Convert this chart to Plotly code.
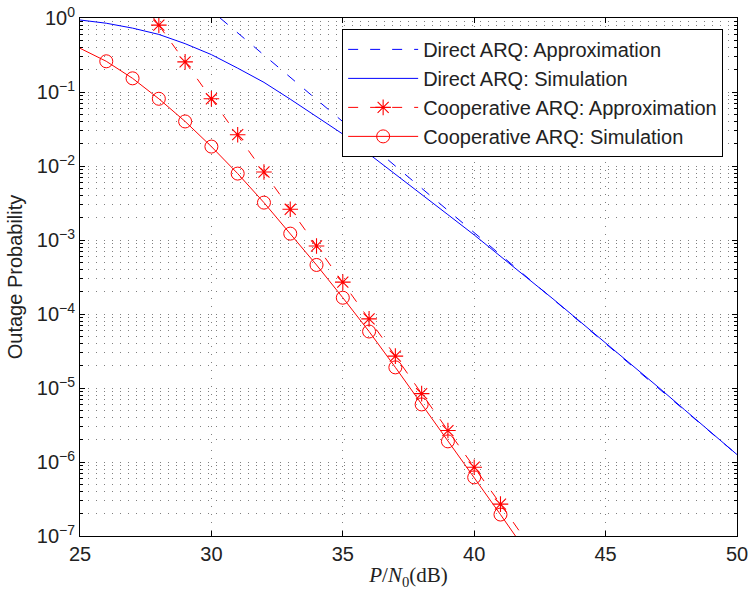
import plotly.graph_objects as go

# ---------------- data ----------------
snr_direct_sim = [25, 26, 27, 28, 29, 30, 31, 32, 33, 34, 35, 36, 37, 38, 39, 40,
                  41, 42, 43, 44, 45, 46, 47, 48, 49, 50]
pout_direct_sim = [0.94, 0.85, 0.73, 0.60, 0.45, 0.32, 0.21, 0.135, 0.080, 0.046,
                   0.027, 0.0145, 0.0078, 0.0041, 0.0022, 0.00117, 6.1e-4, 3.1e-4,
                   1.6e-4, 8.1e-5, 4.1e-5, 2.05e-5, 1.03e-5, 5.1e-6, 2.55e-6, 1.26e-6]

snr_direct_approx = [30.33, 31, 32, 33, 34, 35, 36, 37, 38, 39, 40, 41, 42, 43, 44,
                     45, 46, 47, 48, 49, 50]
pout_direct_approx = [1.0, 0.63, 0.315, 0.158, 0.079, 0.040, 0.020, 0.010, 0.0050,
                      0.0025, 0.00126, 6.3e-4, 3.2e-4, 1.6e-4, 7.9e-5, 4.0e-5, 2.0e-5,
                      1.0e-5, 5.0e-6, 2.5e-6, 1.26e-6]

snr_coop_approx = [28, 29, 30, 31, 32, 33, 34, 35, 36, 37, 38, 39, 40, 41]
pout_coop_approx = [0.80, 0.255, 0.081, 0.0265, 0.0083, 0.0026, 8.3e-4, 2.7e-4,
                    8.6e-5, 2.7e-5, 8.4e-6, 2.66e-6, 8.5e-7, 2.7e-7]
# where the approximation line leaves the plot (top and bottom edges)
snr_coop_approx_head = [27.8, 28]
pout_coop_approx_head = [1.0, 0.80]
snr_coop_approx_tail = [41, 41.85]
pout_coop_approx_tail = [2.7e-7, 1.0e-7]

snr_coop_sim = [26, 27, 28, 29, 30, 31, 32, 33, 34, 35, 36, 37, 38, 39, 40, 41]
pout_coop_sim = [0.26, 0.153, 0.081, 0.040, 0.0183, 0.0079, 0.0032, 0.00122, 4.6e-4,
                 1.66e-4, 5.8e-5, 1.9e-5, 6.0e-6, 1.9e-6, 6.2e-7, 1.95e-7]
snr_coop_sim_head = [25, 26]
pout_coop_sim_head = [0.39, 0.26]
snr_coop_sim_tail = [41, 41.57]
pout_coop_sim_tail = [1.95e-7, 1.0e-7]

x_ticks = [25, 30, 35, 40, 45, 50]
y_exponents = [-7, -6, -5, -4, -3, -2, -1, 0]

# ---------------- styling ----------------
BLUE = "#0000ff"
RED = "#ff0000"
DASH = "10px,12px"
GRID = "rgba(0,0,0,0.5)"
GRIDDASH = "1px,7px"
FONT = "Liberation Sans, Arial, Helvetica, sans-serif"
TXT = "#222"

fig = go.Figure()

fig.add_trace(go.Scatter(
    x=snr_direct_approx, y=pout_direct_approx, mode="lines",
    name="Direct ARQ: Approximation",
    line=dict(color=BLUE, width=1, dash=DASH)))
fig.add_trace(go.Scatter(
    x=snr_direct_sim, y=pout_direct_sim, mode="lines",
    name="Direct ARQ: Simulation",
    line=dict(color=BLUE, width=1)))
fig.add_trace(go.Scatter(
    x=snr_coop_approx, y=pout_coop_approx, mode="lines+markers",
    name="Cooperative ARQ: Approximation", legendgroup="ca",
    line=dict(color=RED, width=1, dash=DASH),
    marker=dict(symbol="asterisk", size=13, color=RED, opacity=1,
                line=dict(color=RED, width=1.1))))
fig.add_trace(go.Scatter(
    x=snr_coop_sim, y=pout_coop_sim, mode="lines+markers",
    name="Cooperative ARQ: Simulation", legendgroup="cs",
    line=dict(color=RED, width=1),
    marker=dict(symbol="circle-open", size=13, color=RED, opacity=1,
                line=dict(color=RED, width=1))))

for xs, ys, grp, dash in [
    (snr_coop_approx_head, pout_coop_approx_head, "ca", DASH),
    (snr_coop_approx_tail, pout_coop_approx_tail, "ca", DASH),
    (snr_coop_sim_head, pout_coop_sim_head, "cs", "solid"),
    (snr_coop_sim_tail, pout_coop_sim_tail, "cs", "solid"),
]:
    fig.add_trace(go.Scatter(x=xs, y=ys, mode="lines", showlegend=False,
                             legendgroup=grp, hoverinfo="skip",
                             line=dict(color=RED, width=1, dash=dash)))

minor_vals = [k * 10.0 ** e for e in range(-7, 0) for k in range(2, 10)]

fig.update_layout(
    template="none",
    width=750, height=596,
    margin=dict(l=80, r=13, t=18, b=60, autoexpand=False),
    paper_bgcolor="white", plot_bgcolor="white",
    font=dict(family=FONT, size=20, color=TXT),
    showlegend=True,
    legend=dict(x=0.399, y=0.979, xanchor="left", yanchor="top",
                bgcolor="white", bordercolor="black", borderwidth=1,
                font=dict(family=FONT, size=20, color=TXT),
                itemwidth=70, tracegroupgap=0),
    xaxis=dict(
        range=[25, 50], tickvals=x_ticks, ticktext=[str(v) for v in x_ticks],
        ticks="inside", ticklen=5, tickcolor="black",
        showline=True, linecolor="black", linewidth=1, mirror="ticks",
        showgrid=True, gridcolor=GRID, griddash=GRIDDASH, gridwidth=1,
        zeroline=False, automargin=False, ticklabeloverflow="allow",
        tickfont=dict(family=FONT, size=20, color=TXT),
        title=dict(text="<i>P</i>/<i>N</i><sub>0</sub>(dB)",
                   font=dict(family="Liberation Serif, DejaVu Serif, serif", size=21, color=TXT),
                   standoff=3),
    ),
    yaxis=dict(
        type="log", range=[-7, 0],
        tickvals=[10.0 ** e for e in y_exponents],
        ticktext=["10<sup>%s</sup>" % (("−%d" % -e) if e < 0 else "0") for e in y_exponents],
        ticks="inside", ticklen=5, tickcolor="black",
        showline=True, linecolor="black", linewidth=1, mirror="ticks",
        showgrid=True, gridcolor=GRID, griddash=GRIDDASH, gridwidth=1,
        zeroline=False, automargin=False, ticklabeloverflow="allow",
        tickfont=dict(family=FONT, size=20, color=TXT),
        minor=dict(tickvals=minor_vals, ticks="inside", ticklen=3, tickcolor="black",
                   showgrid=True, gridcolor=GRID, griddash=GRIDDASH, gridwidth=1),
        title=dict(text="Outage Probability",
                   font=dict(family=FONT, size=20, color=TXT), standoff=8),
    ),
)

# remove the page's default 8px body margin so the figure sits at the window's corner
fig.write_html("out.html", config={"displayModeBar": False},
               post_script="document.body.style.margin='0px';")
